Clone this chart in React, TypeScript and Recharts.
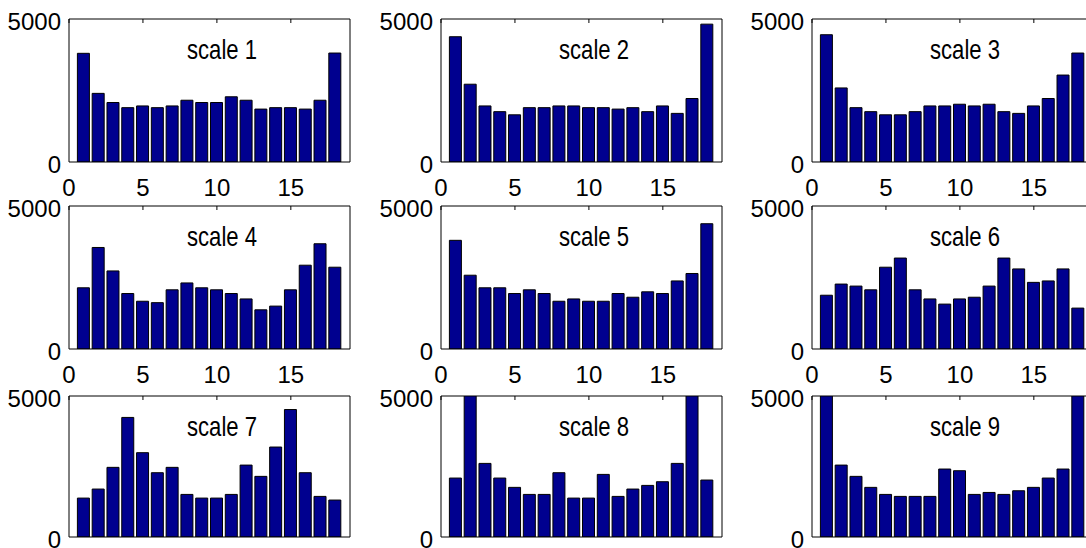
import { BarChart, Bar, XAxis, YAxis } from 'recharts';

// histogram bin centres
const bins = [1, 2, 3, 4, 5, 6, 7, 8, 9, 10, 11, 12, 13, 14, 15, 16, 17, 18];

const scale1 = [3800, 2400, 2080, 1900, 1960, 1900, 1960, 2160, 2080, 2080, 2280, 2160, 1850, 1900, 1900, 1850, 2160, 3810];
const scale2 = [4380, 2720, 1960, 1760, 1650, 1900, 1900, 1960, 1960, 1900, 1900, 1850, 1900, 1760, 1960, 1700, 2220, 4820];
const scale3 = [4450, 2590, 1900, 1760, 1650, 1650, 1760, 1960, 1960, 2020, 1960, 2020, 1760, 1700, 1960, 2220, 3040, 3810];
const scale4 = [2140, 3550, 2730, 1940, 1670, 1620, 2070, 2310, 2140, 2070, 1940, 1750, 1370, 1500, 2070, 2930, 3680, 2860];
const scale5 = [3800, 2580, 2140, 2140, 1940, 2070, 1940, 1670, 1750, 1670, 1670, 1940, 1810, 2000, 1940, 2380, 2640, 4380];
const scale6 = [1880, 2270, 2200, 2070, 2860, 3180, 2070, 1750, 1570, 1750, 1810, 2200, 3180, 2800, 2330, 2380, 2800, 1430];
const scale7 = [1380, 1700, 2470, 4240, 2990, 2280, 2470, 1510, 1380, 1380, 1510, 2550, 2150, 3190, 4520, 2280, 1440, 1310];
const scale8 = [2090, 5600, 2610, 2090, 1760, 1510, 1510, 2280, 1380, 1380, 2220, 1440, 1700, 1830, 1960, 2610, 5600, 2020];
const scale9 = [5800, 2550, 2150, 1760, 1510, 1440, 1440, 1440, 2410, 2350, 1510, 1580, 1510, 1640, 1760, 2090, 2410, 5800];

const series = [scale1, scale2, scale3, scale4, scale5, scale6, scale7, scale8, scale9];
const titles = ['scale 1', 'scale 2', 'scale 3', 'scale 4', 'scale 5', 'scale 6', 'scale 7', 'scale 8', 'scale 9'];

const xTicks = [0, 5, 10, 15];
const yTicks = [0, 5000];

const FONT = '"Liberation Sans", Arial, Helvetica, sans-serif';
const BAR_FILL = '#00008f';

// plot-area placement of the 3x3 grid
const colLeft = [69, 441, 812];
const rowTop = [20, 207, 397];
const rowHeight = [142, 142, 140];
const PLOT_W = 281;
const Y_AXIS_W = 69;

function Panel({ values, title, left, top, plotH, showX }: { values: number[]; title: string; left: number; top: number; plotH: number; showX: boolean }) {
  const data = bins.map((b, i) => ({ bin: b, count: values[i] }));
  const w = Y_AXIS_W + PLOT_W + 22;
  const h = 20 + plotH + 45;
  const tickStyle = { fontSize: 24, fill: '#000', fontFamily: FONT };

  return (
    <div style={{ position: 'absolute', left: left - Y_AXIS_W, top: top - 20, width: w, height: h }}>
      <BarChart width={w} height={h} data={data} margin={{ top: 19, right: 21, bottom: 0, left: 0 }}>
        <XAxis
          dataKey="bin"
          type="number"
          domain={[0, 19]}
          ticks={xTicks}
          interval={0}
          tickLine={false}
          tickSize={0}
          tickMargin={17}
          height={45}
          stroke="#000"
          tick={showX ? tickStyle : false}
        />
        <XAxis
          xAxisId="top"
          dataKey="bin"
          orientation="top"
          type="number"
          domain={[0, 19]}
          ticks={xTicks}
          interval={0}
          mirror
          tickSize={4}
          tickFormatter={() => ''}
          height={1}
          stroke="#000"
        />
        <YAxis
          type="number"
          domain={[0, 5000]}
          ticks={yTicks}
          interval={0}
          allowDataOverflow
          tickLine={false}
          tickSize={0}
          tickMargin={8}
          width={Y_AXIS_W}
          stroke="#000"
          tick={{ ...tickStyle, dy: 2 }}
        />
        <YAxis
          yAxisId="r"
          orientation="right"
          type="number"
          domain={[0, 5000]}
          ticks={yTicks}
          tick={false}
          tickLine={false}
          width={1}
          stroke="#000"
        />
        <Bar dataKey="count" fill={BAR_FILL} stroke="#000" strokeWidth={1} barSize={12} isAnimationActive={false} />
      </BarChart>
      <svg width={w} height={h} style={{ position: 'absolute', left: 0, top: 0, pointerEvents: 'none' }}>
        <text
          x={Y_AXIS_W + 153}
          y={20 + 39}
          textAnchor="middle"
          fontSize={28}
          fontFamily={FONT}
          fill="#000"
          textLength={70}
          lengthAdjust="spacingAndGlyphs"
        >
          {title}
        </text>
      </svg>
    </div>
  );
}

export default function App() {
  return (
    <div style={{ position: 'absolute', left: 0, top: 0, width: 1086, height: 548, overflow: 'hidden', background: '#fff' }}>
      {series.map((values, i) => {
        const r = Math.floor(i / 3);
        const c = i % 3;
        return (
          <Panel
            key={titles[i]}
            values={values}
            title={titles[i]}
            left={colLeft[c]}
            top={rowTop[r]}
            plotH={rowHeight[r]}
            showX={r < 2}
          />
        );
      })}
    </div>
  );
}
